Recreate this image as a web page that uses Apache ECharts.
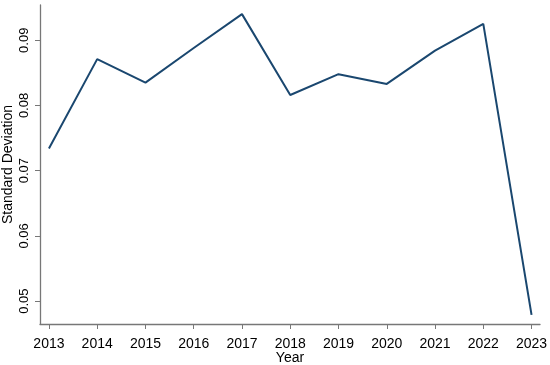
<!DOCTYPE html>
<html>
<head>
<meta charset="utf-8">
<script src="https://cdn.jsdelivr.net/npm/echarts@6/dist/echarts.min.js"></script>
<style>
html,body{margin:0;padding:0;background:#fff;}
#chart{width:550px;height:365px;}
</style>
</head>
<body>
<div id="chart"></div>
<script>
var years = [2013, 2014, 2015, 2016, 2017, 2018, 2019, 2020, 2021, 2022, 2023];
var stdDev = [0.0734, 0.0871, 0.0835, 0.0888, 0.0940, 0.0816, 0.0848, 0.0833, 0.0884, 0.0925, 0.0479];
var yTicks = [0.05, 0.06, 0.07, 0.08, 0.09];
var xTicks = [2013, 2014, 2015, 2016, 2017, 2018, 2019, 2020, 2021, 2022, 2023];

var chart = echarts.init(document.getElementById('chart'), null, {renderer: 'canvas'});
var font = 'Liberation Sans, Arial, sans-serif';
chart.setOption({
  animation: false,
  backgroundColor: '#ffffff',
  grid: {left: 40, right: 10, top: 5, bottom: 41, containLabel: false, outerBoundsMode: 'none'},
  xAxis: {
    type: 'value',
    min: 2012.815,
    max: 2023.175,
    name: 'Year',
    nameLocation: 'middle',
    nameGap: 27,
    nameMoveOverlap: false,
    nameTextStyle: {fontSize: 14, color: '#000', fontFamily: font},
    splitLine: {show: false},
    axisLine: {show: true, lineStyle: {color: '#777', width: 1.3}},
    axisTick: {show: true, length: 5, lineStyle: {color: '#777', width: 1}, customValues: xTicks},
    axisLabel: {fontSize: 14, color: '#000', fontFamily: font, margin: 13, customValues: xTicks,
      hideOverlap: false,
      formatter: function (v) { return String(Math.round(v)); }}
  },
  yAxis: {
    type: 'value',
    min: 0.0465,
    max: 0.0954,
    name: 'Standard Deviation',
    nameLocation: 'middle',
    nameGap: 25,
    nameRotate: 90,
    nameMoveOverlap: false,
    nameTextStyle: {fontSize: 14, color: '#000', fontFamily: font},
    splitLine: {show: false},
    axisLine: {show: true, lineStyle: {color: '#777', width: 1.3}},
    axisTick: {show: true, length: 5, lineStyle: {color: '#777', width: 1}, customValues: yTicks},
    axisLabel: {fontSize: 13, color: '#000', fontFamily: font, rotate: 90, margin: 9,
      customValues: yTicks,
      formatter: function (v) { return v.toFixed(2); }}
  },
  series: [{
    type: 'line',
    data: years.map(function (y, i) { return [y, stdDev[i]]; }),
    showSymbol: false,
    symbol: 'none',
    lineStyle: {color: '#1a476f', width: 2}
  }]
});
</script>
</body>
</html>
